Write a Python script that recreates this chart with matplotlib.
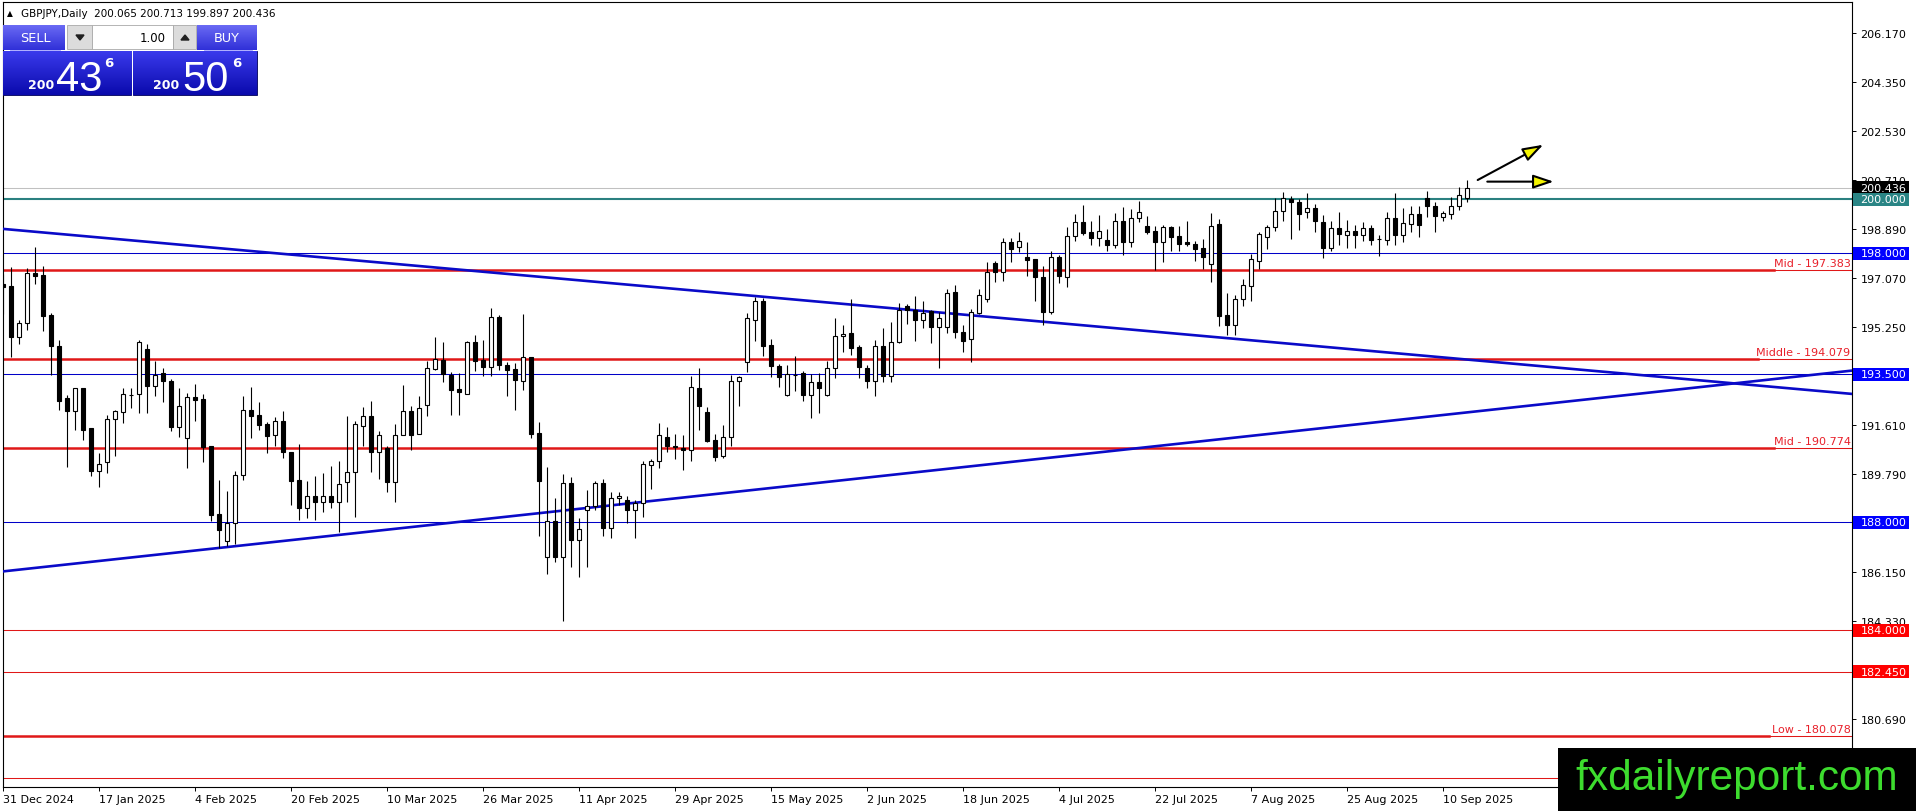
import matplotlib
matplotlib.use('Agg')
import matplotlib.pyplot as plt
import matplotlib.transforms as mtransforms
from matplotlib.patches import Rectangle, Polygon
import numpy as np

# daily candles GBPJPY, 31 Dec 2024 .. 15 Sep 2025
opens = [196.86, 196.80, 194.90, 195.40, 197.26, 197.20, 195.72, 194.55, 192.63, 192.13,
         192.99, 191.51, 189.90, 190.26, 191.83, 192.09, 192.75, 192.76, 194.45, 193.08,
         193.54, 193.26, 191.56, 191.14, 192.65, 192.59, 190.84, 188.32, 187.30, 187.97,
         189.75, 192.16, 191.99, 191.66, 191.23, 191.75, 190.60, 189.56, 188.55, 189.00,
         188.77, 188.97, 188.75, 189.49, 189.86, 191.59, 191.94, 190.60, 190.76, 189.49,
         191.23, 192.13, 191.30, 192.37, 193.70, 194.02, 193.49, 192.96, 192.78, 194.69,
         194.03, 193.78, 195.62, 193.85, 193.70, 193.26, 194.13, 191.32, 186.70, 188.05,
         186.70, 189.46, 187.33, 188.45, 188.60, 189.46, 187.80, 188.89, 188.82, 188.45,
         188.71, 190.13, 190.27, 191.17, 190.83, 190.76, 190.68, 192.99, 192.09, 191.05,
         190.45, 191.16, 193.24, 193.95, 195.53, 196.21, 194.59, 193.80, 192.74, 193.48,
         193.55, 192.74, 193.20, 192.74, 193.74, 194.91, 195.02, 194.50, 193.74, 193.24,
         194.56, 193.45, 194.71, 196.03, 195.90, 195.53, 195.84, 195.27, 195.25, 196.55,
         195.06, 194.81, 195.77, 196.30, 197.64, 197.32, 198.41, 198.22, 197.85, 197.79,
         197.11, 195.83, 197.85, 197.13, 198.63, 199.15, 198.78, 198.56, 198.51, 198.32,
         199.21, 198.41, 199.30, 199.00, 198.83, 198.41, 198.97, 198.63, 198.41, 198.35,
         198.19, 197.60, 199.09, 195.72, 195.35, 196.29, 196.77, 197.73, 198.59, 198.97,
         199.56, 200.02, 199.92, 199.52, 199.67, 199.15, 198.21, 198.93, 198.68, 198.83,
         198.68, 198.93, 198.53, 198.51, 199.30, 198.69, 199.09, 199.46, 200.04, 199.77,
         199.34, 199.44, 199.77, 200.065]
highs = [197.23, 197.50, 195.52, 197.46, 198.25, 197.53, 195.77, 194.76, 192.73, 192.99,
         193.00, 191.51, 190.57, 191.99, 192.18, 193.00, 193.00, 194.76, 194.63, 193.99,
         193.73, 193.31, 192.99, 192.80, 193.13, 192.77, 190.84, 189.58, 189.15, 189.90,
         192.68, 193.03, 192.46, 191.72, 191.92, 192.13, 190.60, 190.90, 189.55, 189.71,
         189.83, 190.08, 190.27, 191.94, 191.78, 192.27, 192.50, 191.38, 190.85, 191.64,
         193.10, 192.31, 192.71, 193.98, 194.89, 194.70, 193.57, 193.55, 194.73, 194.96,
         194.76, 195.95, 195.70, 193.97, 193.92, 195.75, 194.13, 191.72, 190.05, 188.89,
         189.80, 189.67, 188.16, 189.20, 189.55, 189.61, 189.12, 189.14, 188.97, 188.83,
         190.28, 190.35, 191.68, 191.54, 191.28, 191.25, 193.43, 193.74, 192.27, 191.28,
         191.63, 193.47, 193.45, 195.78, 196.39, 196.32, 194.81, 193.88, 193.85, 194.17,
         193.64, 193.51, 193.55, 194.01, 195.58, 195.34, 196.30, 194.59, 193.86, 194.79,
         195.21, 195.43, 196.17, 196.11, 196.40, 196.21, 195.90, 195.80, 196.67, 196.82,
         195.33, 195.93, 196.67, 197.69, 197.73, 198.57, 198.56, 198.78, 198.41, 197.79,
         197.54, 198.07, 197.94, 198.97, 199.46, 199.80, 199.21, 199.42, 198.90, 199.49,
         199.71, 199.65, 199.93, 199.37, 199.03, 199.05, 199.03, 199.00, 199.20, 198.47,
         198.53, 199.49, 199.28, 196.51, 196.45, 197.03, 197.98, 198.80, 199.05, 200.04,
         200.27, 200.14, 200.02, 200.24, 199.83, 199.42, 199.21, 199.52, 199.25, 199.05,
         199.15, 199.05, 198.66, 199.55, 200.24, 199.67, 199.77, 199.75, 200.30, 199.89,
         199.58, 200.08, 200.45, 200.713]
lows = [195.75, 194.14, 194.61, 195.15, 196.84, 195.10, 193.46, 192.16, 190.05, 191.45,
        191.08, 189.74, 189.31, 189.85, 190.45, 191.68, 192.24, 192.06, 192.06, 192.68,
        192.47, 191.41, 191.17, 190.01, 191.76, 190.26, 188.04, 187.05, 187.11, 187.20,
        189.59, 191.15, 191.44, 190.58, 190.85, 190.40, 188.66, 188.10, 188.18, 188.10,
        188.37, 188.53, 187.66, 188.77, 188.22, 190.83, 189.86, 189.61, 189.14, 188.77,
        191.23, 190.70, 191.30, 191.94, 193.66, 193.20, 192.00, 192.00, 192.78, 193.61,
        193.45, 193.45, 193.67, 192.71, 192.19, 192.93, 191.12, 187.51, 186.08, 186.52,
        184.35, 186.33, 185.99, 186.34, 188.47, 187.51, 187.43, 188.66, 187.97, 187.43,
        188.20, 189.24, 190.01, 190.63, 190.35, 189.96, 190.29, 191.44, 191.00, 190.29,
        190.38, 190.85, 192.31, 193.60, 194.75, 194.19, 193.39, 193.02, 192.71, 192.89,
        192.52, 191.87, 192.06, 192.71, 193.35, 194.34, 194.22, 193.35, 192.98, 192.68,
        193.23, 193.23, 194.66, 195.37, 194.75, 195.22, 194.66, 193.72, 195.04, 194.86,
        194.32, 193.97, 195.74, 196.18, 196.92, 196.98, 197.67, 198.04, 197.17, 196.24,
        195.34, 195.75, 196.89, 196.76, 198.47, 198.69, 198.32, 198.28, 198.07, 198.19,
        197.94, 198.22, 199.15, 198.72, 197.39, 197.69, 198.10, 198.10, 198.28, 197.73,
        197.42, 196.92, 195.28, 194.98, 194.98, 196.04, 196.22, 197.42, 198.14, 198.84,
        199.21, 198.53, 198.88, 199.30, 198.78, 197.81, 198.10, 198.31, 198.21, 198.21,
        198.47, 198.31, 197.91, 198.31, 198.31, 198.43, 198.78, 198.59, 199.34, 198.78,
        199.21, 199.28, 199.62, 199.897]
closes = [196.74, 194.90, 195.40, 197.26, 197.17, 195.68, 194.57, 192.50, 192.13, 192.99,
          191.45, 189.90, 190.17, 191.83, 192.13, 192.76, 192.72, 194.69, 193.08, 193.49,
          193.25, 191.56, 192.34, 192.65, 192.56, 190.82, 188.29, 187.73, 187.98, 189.77,
          192.18, 191.96, 191.63, 191.22, 191.75, 190.60, 189.55, 188.55, 189.00, 188.77,
          188.97, 188.75, 189.41, 189.86, 191.64, 191.94, 190.60, 191.26, 189.49, 191.23,
          192.13, 191.23, 192.25, 193.72, 194.06, 193.50, 192.93, 192.83, 194.69, 194.01,
          193.78, 195.62, 193.86, 193.67, 193.30, 194.13, 191.28, 189.55, 188.05, 186.70,
          189.46, 187.33, 187.75, 188.60, 189.46, 187.80, 188.89, 188.97, 188.45, 188.71,
          190.16, 190.27, 191.23, 190.83, 190.80, 190.70, 193.02, 192.34, 191.04, 190.42,
          191.16, 193.24, 193.40, 195.58, 196.21, 194.56, 193.80, 193.39, 193.51, 193.46,
          192.74, 193.20, 192.98, 193.74, 194.91, 195.01, 194.49, 193.76, 193.24, 194.56,
          193.45, 194.71, 195.89, 195.88, 195.53, 195.77, 195.27, 195.58, 196.51, 195.06,
          194.75, 195.80, 196.46, 197.29, 197.29, 198.41, 198.16, 198.45, 197.76, 197.11,
          195.83, 197.85, 197.17, 198.63, 199.15, 198.76, 198.56, 198.82, 198.32, 199.21,
          198.43, 199.30, 199.52, 198.80, 198.41, 198.97, 198.59, 198.35, 198.33, 198.16,
          197.85, 199.03, 195.68, 195.35, 196.29, 196.81, 197.79, 198.72, 198.97, 199.56,
          200.04, 199.89, 199.44, 199.67, 199.18, 198.21, 198.93, 198.71, 198.82, 198.68,
          198.93, 198.51, 198.54, 199.30, 198.69, 199.11, 199.46, 199.06, 199.77, 199.37,
          199.49, 199.77, 200.18, 200.436]

date_ticks = [0, 12, 24, 36, 48, 60, 72, 84, 96, 108, 120, 132, 144, 156, 168, 180]
date_labels = ['31 Dec 2024', '17 Jan 2025', '4 Feb 2025', '20 Feb 2025', '10 Mar 2025',
               '26 Mar 2025', '11 Apr 2025', '29 Apr 2025', '15 May 2025', '2 Jun 2025',
               '18 Jun 2025', '4 Jul 2025', '22 Jul 2025', '7 Aug 2025', '25 Aug 2025',
               '10 Sep 2025']
# 178.870 sits under the watermark box, so it is left out
price_ticks = [180.690, 182.510, 184.330, 186.150, 187.970, 189.790, 191.610,
               193.430, 195.250, 197.070, 198.890, 200.710, 202.530, 204.350, 206.170]

bid = 200.436
level_200 = 200.000
blue_levels = [198.000, 193.500, 188.000]
red_thin_levels = [184.000, 182.450, 178.500]
red_named_levels = [197.383, 194.079, 190.774, 180.078]
red_named_texts = ['Mid - 197.383', 'Middle - 194.079', 'Mid - 190.774', 'Low - 180.078']
red_named_cut = [0.958, 0.949, 0.958, 0.955]

trend_down_x = [-1, 232]
trend_down_y = [198.93, 192.75]
trend_up_x = [-1, 232]
trend_up_y = [186.15, 193.67]

arrow_up = [(184.3, 200.72), (192.5, 202.03)]
arrow_flat = [(185.5, 200.66), (193.8, 200.66)]

header = 'GBPJPY,Daily  200.065 200.713 199.897 200.436'

plt.rcParams['font.family'] = 'DejaVu Sans'
W, H = 1916, 812
fig = plt.figure(figsize=(W / 100, H / 100), dpi=100)
fig.patch.set_facecolor('white')
ax = fig.add_axes([2.7 / W, 1 - 788 / H, (1852 - 2.7) / W, (788 - 2.7) / H])
ax.set_xlim(-0.075, 231.09)
ax.set_ylim(178.172, 207.344)

# candles
x = np.arange(len(opens))
o = np.array(opens)
h = np.array(highs)
l = np.array(lows)
c = np.array(closes)
up = c >= o
ax.vlines(x, l, h, color='black', linewidth=0.8, zorder=4)
lo = np.minimum(o, c)
bh = np.maximum(np.abs(c - o), 0.015)
ax.bar(x[up], bh[up], bottom=lo[up], width=0.52, facecolor='white',
       edgecolor='black', linewidth=0.8, zorder=5)
ax.bar(x[~up], bh[~up], bottom=lo[~up], width=0.52, facecolor='black',
       edgecolor='black', linewidth=0.8, zorder=5)

# levels
ax.axhline(bid, color='#c0c0c0', lw=0.75, zorder=2)
ax.axhline(level_200, color='#2a8080', lw=1.5, zorder=2)
for p in blue_levels:
    ax.axhline(p, color='#0000c8', lw=0.75, zorder=2)
for p in red_thin_levels:
    ax.axhline(p, color='#e01818', lw=0.75, zorder=2)
for p, t, cut in zip(red_named_levels, red_named_texts, red_named_cut):
    ax.axhline(p, xmin=0, xmax=cut, color='#e01818', lw=1.8, zorder=2)
    ax.axhline(p, xmin=cut, xmax=1, color='#e01818', lw=0.75, zorder=2)
    ax.annotate(t, xy=(1, p), xycoords=('axes fraction', 'data'),
                xytext=(-1, 1.5), textcoords='offset points',
                ha='right', va='bottom', color='#e8202a', fontsize=8, zorder=6)

ax.plot(trend_down_x, trend_down_y, color='#0a0ac8', lw=1.9, zorder=3)
ax.plot(trend_up_x, trend_up_y, color='#0a0ac8', lw=1.9, zorder=3)

for (x0, y0), (x1, y1) in [arrow_up, arrow_flat]:
    ax.annotate('', xy=(x1, y1), xytext=(x0, y0),
                arrowprops=dict(arrowstyle='-|>,head_length=1.25,head_width=0.42',
                                fc='#f4f400', ec='black', lw=1.5, shrinkA=0, shrinkB=0),
                zorder=7)

# axes look
for s in ax.spines.values():
    s.set_color('black')
    s.set_linewidth(0.8)
ax.yaxis.tick_right()
ax.set_yticks(price_ticks)
ax.set_yticklabels(['%.3f' % v for v in price_ticks])
ax.tick_params(axis='y', direction='out', length=3, width=0.7, pad=3, labelsize=8)
ax.set_xticks(date_ticks)
ax.set_xticklabels(date_labels)
for lab in ax.get_xticklabels():
    lab.set_ha('left')
ax.tick_params(axis='x', direction='out', length=3, width=0.7, pad=2, labelsize=8)

# price labels on the right scale
blend = mtransforms.blended_transform_factory(ax.transAxes, ax.transData)
box_w = 56 / 1849.3
box_h = 13 / 26.92
tag_levels = [bid, level_200] + blue_levels + red_thin_levels[:2]
tag_colors = ['black', '#2a8585', '#0000ff', '#0000ff', '#0000ff', '#ff0000', '#ff0000']
for p, col in zip(tag_levels, tag_colors):
    ax.add_patch(Rectangle((1.0007, p - box_h / 2), box_w, box_h, transform=blend,
                           facecolor=col, edgecolor='none', clip_on=False, zorder=8))
    ax.text(1.0 + 8.4 / 1849.3, p, '%.3f' % p, transform=blend, ha='left', va='center',
            color='white', fontsize=8, clip_on=False, zorder=9)

# overlay in pixel coordinates for the trade panel, header and watermark
ui = fig.add_axes([0, 0, 1, 1])
ui.set_xlim(0, W)
ui.set_ylim(H, 0)
ui.axis('off')
ui.patch.set_alpha(0)


def grad_box(x0, y0, x1, y1, top, bottom):
    t = np.array(matplotlib.colors.to_rgb(top))
    b = np.array(matplotlib.colors.to_rgb(bottom))
    g = np.linspace(0, 1, 64)[:, None, None]
    img = t * (1 - g) + b * g
    ui.imshow(img, extent=(x0, x1, y1, y0), aspect='auto', interpolation='bilinear',
              origin='upper', zorder=2)


ui.text(7, 13.5, '\u25b2', fontsize=5.5, va='center', ha='left')
ui.text(21, 13.8, header, fontsize=7.5, va='center', ha='left')

# sell / buy buttons
grad_box(3, 26, 65, 51, '#6a6af4', '#3030d8')
grad_box(197, 26, 257, 51, '#6a6af4', '#3030d8')
ui.plot([10, 60], [50.5, 50.5], color='#a0a0ff', lw=0.6)
ui.plot([204, 252], [50.5, 50.5], color='#a0a0ff', lw=0.6)
ui.text(35, 38.5, 'SELL', color='white', fontsize=9.3, ha='center', va='center')
ui.text(227, 38.5, 'BUY', color='white', fontsize=9.3, ha='center', va='center')
ui.add_patch(Rectangle((67, 26), 25, 24, facecolor='#dcdcdc', edgecolor='#a8a8a8', lw=0.6))
ui.add_patch(Rectangle((92, 26), 81, 24, facecolor='white', edgecolor='#a8a8a8', lw=0.6))
ui.add_patch(Rectangle((173, 26), 23, 24, facecolor='#dcdcdc', edgecolor='#a8a8a8', lw=0.6))
ui.add_patch(Polygon([[76, 36], [84, 36], [80, 41]], closed=True, color='#202020'))
ui.add_patch(Polygon([[181, 41], [189, 41], [185, 36]], closed=True, color='#202020'))
ui.text(166, 38.5, '1.00', color='black', fontsize=8.5, ha='right', va='center')

# price boxes
grad_box(3, 52, 131.5, 96, '#3a3aec', '#0a0aac')
grad_box(133.5, 52, 257, 96, '#3a3aec', '#0a0aac')
ui.add_patch(Rectangle((3, 52), 128.5, 44, fill=False, edgecolor='#10106a', lw=0.7))
ui.add_patch(Rectangle((133.5, 52), 123.5, 44, fill=False, edgecolor='#10106a', lw=0.7))
ui.text(28, 89, '200', color='white', fontsize=9, fontweight='bold', ha='left', va='baseline')
ui.text(56, 91, '43', color='white', fontsize=30, family='Liberation Sans', ha='left', va='baseline')
ui.text(104, 67, '6', color='white', fontsize=9.5, fontweight='bold', ha='left', va='baseline')
ui.text(153, 89, '200', color='white', fontsize=9, fontweight='bold', ha='left', va='baseline')
ui.text(182, 91, '50', color='white', fontsize=30, family='Liberation Sans', ha='left', va='baseline')
ui.text(232, 67, '6', color='white', fontsize=9.5, fontweight='bold', ha='left', va='baseline')

# watermark
ui.add_patch(Rectangle((1558, 749), 358, 63, facecolor='black', edgecolor='none', zorder=5))
ui.text(1575, 790, 'fxdailyreport.com', color='#3ddc2e', fontsize=30.5,
        family='Liberation Sans', ha='left', va='baseline', zorder=6)

fig.savefig('out.png', dpi=100, facecolor='white')
